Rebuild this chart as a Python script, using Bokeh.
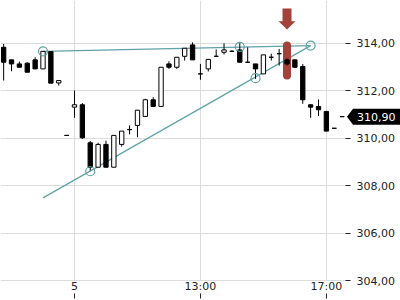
from bokeh.plotting import figure
from bokeh.models import Range1d, FixedTicker, Label, ColumnDataSource, Grid
from bokeh.embed import file_html
from bokeh.resources import INLINE

# ---- data ----
idx = list(range(-9, 35))
opens = [313.82, 313.29, 313.12, 313.15, 313.29, 312.91, 313.64, 312.32, 310.11,
         311.30, 311.40, 309.80, 308.77, 309.73, 308.77, 309.73, 310.35, 310.53, 310.91,
         311.61, 311.33, 313.12, 312.98, 313.44, 313.92, 312.70, 312.91, 313.44, 313.61,
         313.65, 313.71, 313.19, 313.12, 312.70, 313.40, 313.55, 313.29, 313.29, 313.01,
         311.40, 311.33, 311.12, 310.41, 310.90]
highs = [313.96, 313.29, 313.22, 313.19, 313.40, 313.66, 313.64, 312.42, 310.11,
         312.00, 311.47, 309.87, 309.80, 309.89, 310.11, 310.29, 310.53, 311.17, 311.65,
         311.72, 312.98, 313.23, 313.40, 313.78, 314.03, 313.12, 313.31, 313.73, 313.99,
         313.70, 313.99, 313.82, 313.12, 313.50, 313.55, 313.75, 313.35, 313.29, 313.12,
         311.42, 311.62, 311.12, 310.41, 310.90]
lows = [312.42, 312.81, 312.98, 312.77, 312.91, 312.91, 312.31, 312.21, 310.11,
        310.85, 309.97, 308.63, 308.77, 308.77, 308.77, 309.64, 310.15, 310.03, 310.91,
        311.33, 311.33, 312.91, 312.91, 313.26, 313.29, 312.45, 312.80, 313.44, 313.52,
        313.62, 313.19, 313.19, 312.49, 312.70, 313.26, 313.05, 313.05, 312.94, 311.44,
        310.85, 310.92, 310.29, 310.41, 310.90]
closes = [313.19, 313.12, 312.98, 312.77, 312.91, 313.65, 312.31, 312.42, 310.11,
          311.40, 310.01, 308.77, 309.73, 308.77, 310.11, 310.29, 310.36, 311.17, 311.61,
          311.33, 312.98, 312.98, 313.40, 313.78, 313.29, 312.70, 313.31, 313.44, 313.71,
          313.65, 313.19, 313.19, 312.91, 313.50, 313.40, 313.55, 313.12, 312.98, 311.61,
          311.30, 311.19, 310.29, 310.41, 310.90]

x_tick_pos = [0, 16, 32]
x_tick_labels = ["5", "13:00", "17:00"]
y_ticks = [304, 306, 308, 310, 312, 314]
y_tick_labels = ["304,00", "306,00", "308,00", "310,00", "312,00", "314,00"]

trend_x0 = [-4, -4]
trend_y0 = [313.65, 307.48]
trend_x1 = [30, 30]
trend_y1 = [313.89, 313.89]
pivot_x = [-4, 2, 21, 23, 30]
pivot_y = [313.65, 308.60, 313.84, 312.52, 313.89]

signal_i = 27
signal_top = 314.06
signal_bottom = 312.46
last_price = 310.90
last_label = "310,90"

# ---- figure ----
X0, XE = -9.4, 34.43          # data span of the chart area (0 .. 345 px)
YB, Y1 = 304.0, 315.79        # data span of the chart area (280 .. 0 px)
CHART_W, FULL_W, CHART_H, FULL_H = 345, 400, 280, 290
px_x = (XE - X0) / CHART_W
px_y = (Y1 - YB) / CHART_H
X1 = X0 + FULL_W * px_x
Y0 = Y1 - FULL_H * px_y

p = figure(width=400, height=300, output_backend="svg", toolbar_location=None,
           x_range=Range1d(X0, X1), y_range=Range1d(Y0, Y1),
           y_axis_location="right",
           min_border_left=0, min_border_top=0, min_border_right=0, min_border_bottom=10)
p.outline_line_color = None
p.background_fill_color = "white"
p.border_fill_color = "white"

font = "DejaVu Sans"
p.xaxis.ticker = FixedTicker(ticks=x_tick_pos)
p.xaxis.major_label_overrides = {k: v for k, v in zip(x_tick_pos, x_tick_labels)}
p.xaxis.axis_line_color = None
p.xaxis.minor_tick_line_color = None
p.xaxis.major_tick_in = -3
p.xaxis.major_tick_out = 8
p.xaxis.major_label_standoff = -19
p.xaxis.major_tick_line_color = "#222222"
p.xaxis.major_label_text_font = font
p.xaxis.major_label_text_font_size = "11px"
p.xaxis.major_label_text_color = "#222222"

p.yaxis.fixed_location = XE
p.yaxis.ticker = FixedTicker(ticks=y_ticks)
p.yaxis.major_label_overrides = {k: v for k, v in zip(y_ticks, y_tick_labels)}
p.yaxis.axis_line_color = None
p.yaxis.minor_tick_line_color = None
p.yaxis.major_tick_in = 0
p.yaxis.major_tick_out = 5
p.yaxis.major_label_standoff = 6
p.yaxis.major_tick_line_color = "#222222"
p.yaxis.major_label_text_font = font
p.yaxis.major_label_text_font_size = "11px"
p.yaxis.major_label_text_color = "#222222"

p.xgrid.grid_line_color = "#dcdcdc"
p.ygrid.grid_line_color = "#dcdcdc"
p.ygrid.cross_bounds = (X0, XE - 0.3 * px_x)
p.xgrid.cross_bounds = (YB, Y1)

teal = "#5fa2a8"
red = "#a3413b"

p.segment(x0=trend_x0, y0=trend_y0, x1=trend_x1, y1=trend_y1, line_color=teal, line_width=1.2)
p.vbar(x=[signal_i], top=[signal_top], bottom=[signal_bottom], width=8 * px_x,
       fill_color=red, line_color=None, border_radius=4)
tip = signal_top + 12 * px_y
head = tip + 8.3 * px_y
tail = tip + 21 * px_y
ax = [signal_i, signal_i - 8.5 * px_x, signal_i - 4.5 * px_x, signal_i - 4.5 * px_x,
      signal_i + 4.5 * px_x, signal_i + 4.5 * px_x, signal_i + 8.5 * px_x]
ay = [tip, head, head, tail, tail, head, head]
p.patch(ax, ay, fill_color=red, line_color=None)

colors = ["white" if c >= o else "black" for o, c in zip(opens, closes)]
src = ColumnDataSource(dict(x=idx, o=opens, h=highs, l=lows, c=closes,
                            top=[max(o, c) for o, c in zip(opens, closes)],
                            bot=[min(o, c) for o, c in zip(opens, closes)],
                            col=colors))
p.segment(x0="x", y0="l", x1="x", y1="h", source=src, line_color="black", line_width=1)
p.vbar(x="x", top="top", bottom="bot", width=0.55, source=src,
       fill_color="col", line_color="black", line_width=1)
p.scatter(pivot_x, pivot_y, size=9, marker="circle", fill_color=None,
          line_color=teal, line_width=1.2)

# last price tag (pointer shape left of the price text)
half = 8 * px_y
tx = [XE + 1.5 * px_x, XE + 7.5 * px_x, X1, X1, XE + 7.5 * px_x]
ty = [last_price, last_price + half, last_price + half, last_price - half, last_price - half]
p.patch(tx, ty, fill_color="black", line_color=None)
p.add_layout(Label(x=XE + 11.5 * px_x, y=last_price, text=last_label,
                   text_color="white", text_font=font, text_font_size="11px",
                   text_baseline="middle"))

open("out.html", "w").write(file_html(p, INLINE))
